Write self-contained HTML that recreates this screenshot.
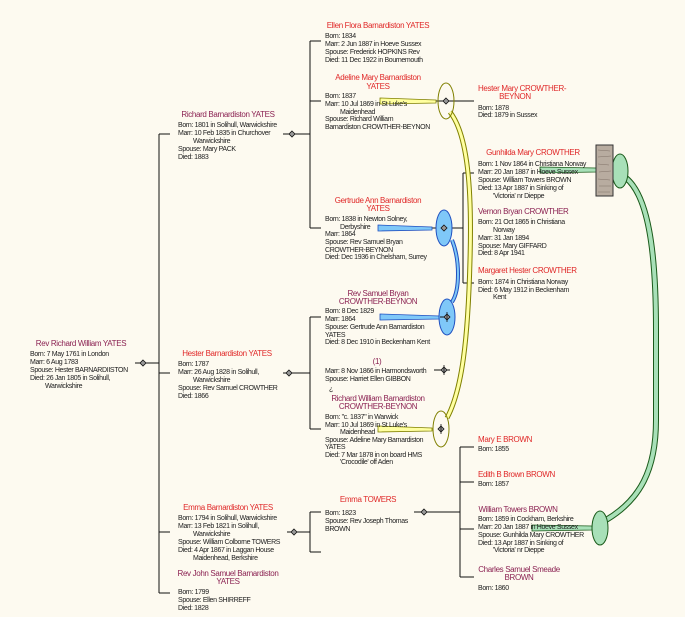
<!DOCTYPE html>
<html><head><meta charset="utf-8"><style>
html,body{margin:0;padding:0;background:#fdfaf0;}
svg{display:block;}
text{font-family:"Liberation Sans",sans-serif;font-size:7px;letter-spacing:-0.35px;fill:#222;}
.f{fill:#e02828;font-size:8px;}
.m{fill:#8b2252;font-size:8px;}
.t{text-anchor:middle;}
</style></head><body>
<svg width="685" height="617" viewBox="0 0 685 617" xmlns="http://www.w3.org/2000/svg">
<rect width="685" height="617" fill="#fdfaf0"/>
<g stroke="#111" stroke-width="1" fill="none">
<line x1="135" y1="363" x2="159" y2="363"/>
<line x1="159" y1="134" x2="159" y2="593"/>
<line x1="159" y1="134" x2="170" y2="134"/>
<line x1="159" y1="373" x2="170" y2="373"/>
<line x1="159" y1="532" x2="170" y2="532"/>
<line x1="159" y1="593" x2="170" y2="593"/>
<line x1="283" y1="134" x2="310" y2="134"/>
<line x1="310" y1="41" x2="310" y2="228"/>
<line x1="310" y1="41" x2="321" y2="41"/>
<line x1="310" y1="101" x2="321" y2="101"/>
<line x1="310" y1="228" x2="321" y2="228"/>
<line x1="283" y1="373" x2="310" y2="373"/>
<line x1="310" y1="317" x2="310" y2="429"/>
<line x1="310" y1="317" x2="321" y2="317"/>
<line x1="310" y1="429" x2="321" y2="429"/>
<line x1="287" y1="532" x2="310" y2="532"/>
<line x1="310" y1="512" x2="310" y2="552"/>
<line x1="310" y1="512" x2="321" y2="512"/>
<line x1="310" y1="552" x2="321" y2="552"/>
<line x1="414" y1="512" x2="460" y2="512"/>
<line x1="460" y1="447" x2="460" y2="577"/>
<line x1="460" y1="447" x2="474" y2="447"/>
<line x1="460" y1="482" x2="474" y2="482"/>
<line x1="460" y1="529" x2="474" y2="529"/>
<line x1="460" y1="577" x2="474" y2="577"/>
<line x1="435" y1="101" x2="474" y2="101"/>
<line x1="432" y1="228" x2="463" y2="228"/>
<line x1="463" y1="173" x2="463" y2="283"/>
<line x1="463" y1="173" x2="474" y2="173"/>
<line x1="463" y1="283" x2="474" y2="283"/>
<line x1="434" y1="370" x2="450" y2="370"/>
</g>
<polygon points="378,225 432,227 432,230 378,231" fill="#7fc8f8" stroke="#2050c0" stroke-width="0.8"/>
<polygon points="380,314 440,316 440,319 380,320" fill="#7fc8f8" stroke="#2050c0" stroke-width="0.8"/>
<polygon points="380,98 436,100 436,103 380,104" fill="#ffffa0" stroke="#808000" stroke-width="0.8"/>
<polygon points="378,426 432,428 432,431 378,432" fill="#ffffa0" stroke="#808000" stroke-width="0.8"/>
<polygon points="540,167 596,168 596,172 540,173" fill="#a8e0b8" stroke="#1a5a1a" stroke-width="0.8"/>
<polygon points="532,525 592,526 592,530 532,531" fill="#a8e0b8" stroke="#1a5a1a" stroke-width="0.8"/>
<path d="M452,240 C460,260 460,290 452,302" fill="none" stroke="#2050c0" stroke-width="4"/>
<path d="M452,240 C460,260 460,290 452,302" fill="none" stroke="#7fc8f8" stroke-width="2"/>
<path d="M450,112 C468,135 472,190 470,260 C468,340 462,390 447,418" fill="none" stroke="#808000" stroke-width="5"/>
<path d="M450,112 C468,135 472,190 470,260 C468,340 462,390 447,418" fill="none" stroke="#ffffa0" stroke-width="3"/>
<path d="M626,178 C648,196 656,250 656,330 L656,420 C656,470 640,500 606,520" fill="none" stroke="#1a5a1a" stroke-width="6"/>
<path d="M626,178 C648,196 656,250 656,330 L656,420 C656,470 640,500 606,520" fill="none" stroke="#a8e0b8" stroke-width="4"/>
<ellipse cx="446" cy="101" rx="8" ry="18" fill="none" stroke="#808000" stroke-width="1"/>
<ellipse cx="441" cy="429" rx="8" ry="18" fill="none" stroke="#808000" stroke-width="1"/>
<ellipse cx="444" cy="228" rx="8" ry="18" fill="#7fc8f8" stroke="#2050c0" stroke-width="1"/>
<ellipse cx="447" cy="317" rx="8" ry="18" fill="#7fc8f8" stroke="#2050c0" stroke-width="1"/>
<ellipse cx="620" cy="171" rx="8" ry="17" fill="#a8e0b8" stroke="#1a5a1a" stroke-width="1"/>
<ellipse cx="600" cy="528" rx="8" ry="17" fill="#a8e0b8" stroke="#1a5a1a" stroke-width="1"/>
<rect x="596" y="145" width="17" height="51" fill="#b8aca0" stroke="#333" stroke-width="1"/>
<g stroke="#6a5a50" stroke-width="0.5" opacity="0.7">
<line x1="598" y1="150" x2="610" y2="151"/><line x1="598" y1="157" x2="611" y2="156"/><line x1="598" y1="164" x2="609" y2="165"/><line x1="599" y1="172" x2="611" y2="171"/><line x1="598" y1="179" x2="610" y2="180"/><line x1="599" y1="186" x2="611" y2="186"/><line x1="598" y1="192" x2="610" y2="192"/>
</g>
<line x1="447" y1="317" x2="440" y2="317" stroke="#111"/>
<g fill="#999" stroke="#111" stroke-width="0.8">
<polygon points="143,360 146,363 143,366 140,363"/>
<polygon points="292,131 295,134 292,137 289,134"/>
<polygon points="289,370 292,373 289,376 286,373"/>
<polygon points="294,529 297,532 294,535 291,532"/>
<polygon points="424,509 427,512 424,515 421,512"/>
<polygon points="446,98 449,101 446,104 443,101"/>
<polygon points="444,225 447,228 444,231 441,228"/>
<polygon points="447,314 450,317 447,320 444,317"/>
<polygon points="444,367 447,370 444,373 441,370"/>
<polygon points="441,426 444,429 441,432 438,429"/>
</g>
<g stroke="#111" stroke-width="0.8"><line x1="444" y1="365" x2="444" y2="375"/><line x1="447" y1="312" x2="447" y2="322"/><line x1="441" y1="424" x2="441" y2="434"/></g>

<text class="m t" x="81" y="346">Rev Richard William YATES</text>
<text x="30" y="356">Born: 7 May 1761 in London</text>
<text x="30" y="364">Marr: 6 Aug 1783</text>
<text x="30" y="372">Spouse: Hester BARNARDIISTON</text>
<text x="30" y="380">Died: 26 Jan 1805 in Solihull,</text>
<text x="45" y="388">Warwickshire</text>
<text class="m t" x="228" y="117">Richard Barnardiston YATES</text>
<text x="178" y="127">Born: 1801 in Solihull, Warwickshire</text>
<text x="178" y="135">Marr: 10 Feb 1835 in Churchover</text>
<text x="193" y="143">Warwickshire</text>
<text x="178" y="151">Spouse: Mary PACK</text>
<text x="178" y="159">Died: 1883</text>
<text class="f t" x="227" y="356">Hester Barnardiston YATES</text>
<text x="178" y="366">Born: 1787</text>
<text x="178" y="374">Marr: 26 Aug 1828 in Solihull,</text>
<text x="193" y="382">Warwickshire</text>
<text x="178" y="390">Spouse: Rev Samuel CROWTHER</text>
<text x="178" y="398">Died: 1866</text>
<text class="f t" x="228" y="510">Emma Barnardiston YATES</text>
<text x="178" y="520">Born: 1794 in Solihull, Warwickshire</text>
<text x="178" y="528">Marr: 13 Feb 1821 in Solihull,</text>
<text x="193" y="536">Warwickshire</text>
<text x="178" y="544">Spouse: William Colborne TOWERS</text>
<text x="178" y="552">Died: 4 Apr 1867 in Laggan House</text>
<text x="193" y="560">Maidenhead, Berkshire</text>
<text class="m t" x="228" y="576">Rev John Samuel Barnardiston</text>
<text class="m t" x="228" y="584">YATES</text>
<text x="178" y="594">Born: 1799</text>
<text x="178" y="602">Spouse: Ellen SHIRREFF</text>
<text x="178" y="610">Died: 1828</text>
<text class="f t" x="378" y="28">Ellen Flora Barnardiston YATES</text>
<text x="325" y="38">Born: 1834</text>
<text x="325" y="46">Marr: 2 Jun 1887 in Hoeve Sussex</text>
<text x="325" y="54">Spouse: Frederick HOPKINS Rev</text>
<text x="325" y="62">Died: 11 Dec 1922 in Bournemouth</text>
<text class="f t" x="378" y="80">Adeline Mary Barnardiston</text>
<text class="f t" x="378" y="89">YATES</text>
<text x="325" y="98">Born: 1837</text>
<text x="325" y="106">Marr: 10 Jul 1869 in St Luke's</text>
<text x="340" y="114">Maidenhead</text>
<text x="325" y="121">Spouse: Richard William</text>
<text x="325" y="129">Barnardiston CROWTHER-BEYNON</text>
<text class="f t" x="378" y="203">Gertrude Ann Barnardiston</text>
<text class="f t" x="378" y="211">YATES</text>
<text x="325" y="221">Born: 1838 in Newton Solney,</text>
<text x="340" y="229">Derbyshire</text>
<text x="325" y="236">Marr: 1864</text>
<text x="325" y="244">Spouse: Rev Samuel Bryan</text>
<text x="325" y="252">CROWTHER-BEYNON</text>
<text x="325" y="259">Died: Dec 1936 in Chelsham, Surrey</text>
<text class="m t" x="378" y="296">Rev Samuel Bryan</text>
<text class="m t" x="378" y="304">CROWTHER-BEYNON</text>
<text x="325" y="313">Born: 8 Dec 1829</text>
<text x="325" y="321">Marr: 1864</text>
<text x="325" y="329">Spouse: Gertrude Ann Barnardiston</text>
<text x="325" y="337">YATES</text>
<text x="325" y="344">Died: 8 Dec 1910 in Beckenham Kent</text>
<text class="m t" x="377" y="364">(1)</text>
<text x="325" y="373">Marr: 8 Nov 1866 in Harmondsworth</text>
<text x="325" y="381">Spouse: Harriet Ellen GIBBON</text>
<text x="329" y="391">¿</text>
<text class="m t" x="378" y="401">Richard William Barnardiston</text>
<text class="m t" x="378" y="409">CROWTHER-BEYNON</text>
<text x="325" y="419">Born: "c. 1837" in Warwick</text>
<text x="325" y="427">Marr: 10 Jul 1869 in St Luke's</text>
<text x="340" y="434">Maidenhead</text>
<text x="325" y="442">Spouse: Adeline Mary Barnardiston</text>
<text x="325" y="449">YATES</text>
<text x="325" y="457">Died: 7 Mar 1878 in on board HMS</text>
<text x="340" y="464">'Crocodile' off Aden</text>
<text class="f t" x="368" y="502">Emma TOWERS</text>
<text x="325" y="515">Born: 1823</text>
<text x="325" y="523">Spouse: Rev Joseph Thomas</text>
<text x="325" y="531">BROWN</text>
<text class="f" x="478" y="91">Hester Mary CROWTHER-</text>
<text class="f t" x="515" y="99">BEYNON</text>
<text x="478" y="110">Born: 1878</text>
<text x="478" y="117">Died: 1879 in Sussex</text>
<text class="f t" x="533" y="155">Gunhilda Mary CROWTHER</text>
<text x="478" y="166">Born: 1 Nov 1864 in Christiana Norway</text>
<text x="478" y="174">Marr: 20 Jan 1887 in Hoeve Sussex</text>
<text x="478" y="182">Spouse: William Towers BROWN</text>
<text x="478" y="190">Died: 13 Apr 1887 in Sinking of</text>
<text x="493" y="198">'Victoria' nr Dieppe</text>
<text class="m" x="478" y="214">Vernon Bryan CROWTHER</text>
<text x="478" y="224">Born: 21 Oct 1865 in Christiana</text>
<text x="493" y="232">Norway</text>
<text x="478" y="240">Marr: 31 Jan 1894</text>
<text x="478" y="248">Spouse: Mary GIFFARD</text>
<text x="478" y="255">Died: 8 Apr 1941</text>
<text class="f" x="478" y="273">Margaret Hester CROWTHER</text>
<text x="478" y="284">Born: 1874 in Christiana Norway</text>
<text x="478" y="292">Died: 6 May 1912 in Beckenham</text>
<text x="493" y="299">Kent</text>
<text class="f" x="478" y="442">Mary E BROWN</text>
<text x="478" y="451">Born: 1855</text>
<text class="f" x="478" y="477">Edith B Brown BROWN</text>
<text x="478" y="486">Born: 1857</text>
<text class="m t" x="518" y="512">William Towers BROWN</text>
<text x="478" y="521">Born: 1859 in Cockham, Berkshire</text>
<text x="478" y="529">Marr: 20 Jan 1887 in Hoeve Sussex</text>
<text x="478" y="537">Spouse: Gunhilda Mary CROWTHER</text>
<text x="478" y="545">Died: 13 Apr 1887 in Sinking of</text>
<text x="493" y="552">'Victoria' nr Dieppe</text>
<text class="m t" x="519" y="572">Charles Samuel Smeade</text>
<text class="m t" x="519" y="580">BROWN</text>
<text x="478" y="590">Born: 1860</text>
</svg>
</body></html>
